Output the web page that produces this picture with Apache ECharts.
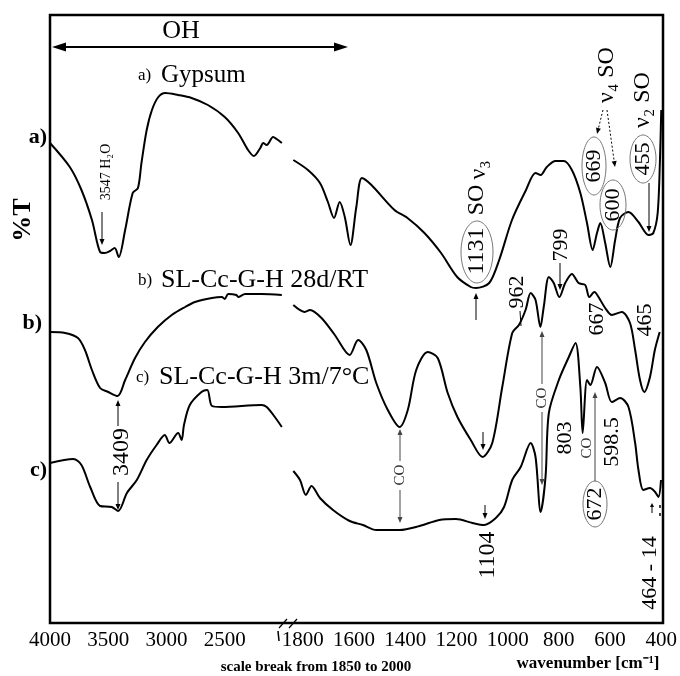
<!DOCTYPE html>
<html>
<head>
<meta charset="utf-8">
<script src="https://cdn.jsdelivr.net/npm/echarts@6/dist/echarts.min.js"></script>
<style>
  html, body { margin: 0; background: #fff; }
  #chart { width: 680px; height: 676px; }
</style>
</head>
<body>
<div id="chart"></div>
<script>
// FTIR spectra, %T in arbitrary units; x = wavenumber (cm-1), broken between 1850 and 2000
const leftTicks = [4000, 3500, 3000, 2500];
const rightTicks = [1800, 1600, 1400, 1200, 1000, 800, 600, 400];

// a) Gypsum
const aHighWave = [4000, 3830, 3730, 3640, 3570, 3530, 3485, 3445, 3410, 3355, 3290, 3245, 3215, 3170, 3125, 3070, 3010, 2900, 2785, 2645, 2500, 2385, 2300, 2250, 2195, 2170, 2140, 2085, 2055, 2010];
const aHighT    = [480, 456, 433, 403, 371, 370, 372, 375, 366, 393, 430, 435, 460, 493, 513, 526, 530, 528, 525, 518, 506, 490, 473, 467, 475, 480, 478, 486, 484, 480];
const aLowWave = [1837, 1780, 1733, 1702, 1678, 1656, 1636, 1614, 1591, 1569, 1532, 1442, 1391, 1325, 1260, 1197, 1144, 1124, 1072, 1033, 983, 930, 891, 871, 847, 813, 781, 749, 716, 690, 668, 651, 638, 619, 599, 580, 561, 528, 489, 450, 431, 414, 405, 400];
const aLowT    = [463, 453, 440, 421, 405, 421, 406, 378, 416, 445, 438, 413, 405, 390, 370, 346, 336, 335, 340, 363, 403, 432, 450, 448, 456, 462, 462, 453, 430, 400, 373, 390, 400, 380, 356, 383, 405, 411, 401, 388, 390, 410, 463, 513];

// b) SL-Cc-G-H 28d/RT
const bHighWave = [4000, 3870, 3760, 3700, 3640, 3570, 3500, 3420, 3355, 3270, 3185, 3075, 2955, 2840, 2755, 2610, 2525, 2500, 2470, 2400, 2385, 2325, 2185, 2010];
const bHighT    = [291, 290, 285, 273, 253, 235, 231, 227, 243, 265, 281, 296, 308, 316, 321, 325, 326, 324, 329, 328, 326, 329, 329, 328];
const bLowWave = [1837, 1792, 1772, 1727, 1675, 1617, 1584, 1552, 1513, 1468, 1422, 1390, 1357, 1312, 1273, 1234, 1196, 1144, 1098, 1060, 1021, 982, 956, 930, 910, 891, 872, 859, 839, 820, 798, 775, 749, 723, 697, 681, 661, 645, 619, 593, 554, 522, 502, 483, 466, 444, 425, 406];
const bLowT    = [318, 311, 313, 305, 288, 268, 283, 273, 240, 213, 196, 213, 253, 271, 265, 230, 206, 183, 166, 180, 236, 290, 298, 313, 330, 323, 296, 316, 346, 340, 326, 340, 349, 340, 338, 326, 331, 326, 315, 308, 311, 300, 273, 243, 231, 246, 273, 291];

// c) SL-Cc-G-H 3m/7°C
const cHighWave = [4000, 3800, 3730, 3655, 3570, 3470, 3415, 3340, 3255, 3170, 3085, 3015, 2975, 2900, 2870, 2850, 2800, 2700, 2650, 2610, 2525, 2185, 2140, 2070, 2010];
const cHighT    = [160, 164, 158, 136, 117, 116, 112, 130, 143, 163, 178, 188, 180, 190, 183, 198, 218, 231, 233, 217, 216, 218, 216, 206, 196];
const cLowWave = [1837, 1811, 1788, 1766, 1733, 1682, 1617, 1565, 1513, 1422, 1344, 1267, 1202, 1137, 1092, 1046, 1014, 982, 949, 910, 891, 871, 852, 839, 800, 761, 735, 716, 707, 690, 677, 651, 619, 593, 560, 528, 502, 489, 470, 444, 424, 411, 401];
const cLowT    = [152, 143, 128, 137, 125, 113, 102, 98, 93, 93, 97, 103, 104, 100, 98, 105, 116, 143, 156, 180, 166, 111, 146, 210, 243, 266, 280, 236, 190, 243, 238, 256, 240, 221, 225, 216, 180, 153, 133, 135, 131, 126, 143];

const FONT = '"Liberation Serif", "Times New Roman", serif';
const chart = echarts.init(document.getElementById('chart'));

const pair = (w, t) => w.map((x, i) => [x, t[i]]);
const curve = (idx, w, t) => ({
  type: 'line', xAxisIndex: idx, yAxisIndex: idx, data: pair(w, t),
  showSymbol: false, smooth: 0.3, silent: true,
  lineStyle: { color: '#000', width: 2 }
});

const xAxisBase = (idx, min, max, interval, ticks) => ({
  gridIndex: idx, type: 'value', min, max, interval, inverse: true,
  axisLine: { show: false }, axisTick: { show: false }, splitLine: { show: false },
  axisLabel: { formatter: v => ticks.includes(v) ? String(v) : '', fontFamily: FONT, fontSize: 21, color: '#000', margin: 7 }
});
const yAxisBase = idx => ({ gridIndex: idx, type: 'value', min: 0, max: 608, show: false });

// annotation helpers (pixel positions)
function txt(s, x, y, size, o = {}) {
  return {
    type: 'text', x, y, z: 10, rotation: o.rot ? Math.PI / 2 : 0,
    style: { text: s, font: `${o.bold ? 'bold ' : ''}${size}px ${FONT}`, fill: o.color || '#000', align: o.align || 'center', verticalAlign: 'middle' }
  };
}
function arrow(x1, y1, x2, y2, o = {}) {
  const c = o.color || '#000', h = o.head || 6, w = o.half || 2.5;
  const a = Math.atan2(y2 - y1, x2 - x1), ca = Math.cos(a), sa = Math.sin(a);
  const bx = x2 - h * ca, by = y2 - h * sa;
  return [
    { type: 'line', z: 10, shape: { x1, y1, x2: bx, y2: by }, style: { stroke: c, lineWidth: o.lw || 1, lineDash: o.dash || null } },
    { type: 'polygon', z: 10, shape: { points: [[x2, y2], [bx - w * sa, by + w * ca], [bx + w * sa, by - w * ca]] }, style: { fill: c } }
  ];
}
const line = (x1, y1, x2, y2, o = {}) => ({ type: 'line', z: 10, shape: { x1, y1, x2, y2 }, style: { stroke: o.color || '#000', lineWidth: o.lw || 1 } });
const oval = (cx, cy, rx, ry) => ({ type: 'ellipse', z: 9, shape: { cx, cy, rx, ry }, style: { fill: 'none', stroke: '#777', lineWidth: 1 } });

const graphic = [
  { type: 'rect', z: 10, shape: { x: 50, y: 15, width: 613, height: 608 }, style: { fill: 'none', stroke: '#000', lineWidth: 2.5 } },
  line(279, 628, 287, 619, { lw: 1.2 }), line(289, 628, 297, 619, { lw: 1.2 }), line(278, 631, 279, 641, { lw: 1.5 }),

  txt('OH', 181, 31, 26),
  ...arrow(200, 47, 52, 47, { lw: 2, head: 14, half: 4.5 }), ...arrow(200, 47, 348, 47, { lw: 2, head: 14, half: 4.5 }),

  txt('a)', 138, 76, 17, { align: 'left' }), txt('Gypsum', 161, 75, 25, { align: 'left' }),
  txt('b)', 138, 281, 17, { align: 'left' }), txt('SL-Cc-G-H 28d/RT', 161, 280, 26, { align: 'left' }),
  txt('c)', 136, 378, 17, { align: 'left' }), txt('SL-Cc-G-H 3m/7°C', 159, 377, 26, { align: 'left' }),

  txt('a)', 47, 137, 22, { bold: true, align: 'right' }),
  txt('b)', 42, 323, 22, { bold: true, align: 'right' }),
  txt('c)', 47, 470, 22, { bold: true, align: 'right' }),
  txt('%T', 23, 220, 26, { bold: true, rot: true }),

  txt('3547 H₂O', 106, 172, 14, { rot: true }), ...arrow(102, 212, 102, 245),
  txt('3409', 122, 452, 24, { rot: true }), ...arrow(118, 426, 118, 400), ...arrow(118, 482, 118, 510),

  txt('1131', 477, 251, 24, { rot: true }), oval(477, 252, 16, 31),
  txt('SO', 477, 200, 24, { rot: true }), txt('ν₃', 479, 170, 24, { rot: true }),
  ...arrow(476, 320, 476, 293),

  txt('ν₄ SO', 607, 75, 24, { rot: true }),
  ...arrow(603, 110, 597, 134, { dash: [2, 2] }), ...arrow(607, 110, 615, 167, { dash: [2, 2] }),
  txt('669', 594, 166, 22, { rot: true }), oval(594, 166, 12, 29),
  txt('600', 613, 205, 22, { rot: true }), oval(613, 205, 13, 25),
  txt('ν₂ SO', 643, 100, 24, { rot: true }),
  txt('455', 643, 159, 22, { rot: true }), oval(643, 159, 13, 24),
  ...arrow(649, 183, 649, 232),

  txt('962', 517, 292, 22, { rot: true }), line(520, 311, 521, 326),
  txt('799', 561, 245, 22, { rot: true }), ...arrow(560, 263, 560, 290),
  txt('667', 597, 319, 22, { rot: true }),
  txt('465', 645, 320, 22, { rot: true }),

  txt('CO', 542, 398, 15, { rot: true, color: '#333' }),
  ...arrow(542, 384, 542, 331, { color: '#444' }), ...arrow(542, 412, 542, 485, { color: '#444' }),
  txt('CO', 400, 475, 15, { rot: true, color: '#333' }),
  ...arrow(400, 461, 400, 429, { color: '#444' }), ...arrow(400, 490, 400, 523, { color: '#444' }),

  ...arrow(483, 432, 483, 450), ...arrow(485, 505, 485, 519),
  txt('1104', 488, 555, 24, { rot: true }),
  txt('803', 565, 438, 22, { rot: true }),
  txt('CO', 587, 448, 15, { rot: true, color: '#333' }),
  txt('672', 595, 504, 22, { rot: true }), oval(595, 504, 12, 23),
  ...arrow(595, 481, 595, 392, { color: '#444' }),
  txt('598.5', 612, 442, 22, { rot: true }),
  txt('464 - 14', 650, 573, 22, { rot: true }),
  ...arrow(652, 513, 652, 503, { head: 4, half: 2 }), line(660, 505, 660, 508, { lw: 1.5 }), line(660, 513, 660, 516, { lw: 1.5 }),

  txt('scale break from 1850 to 2000', 316, 667, 15, { bold: true }),
  txt('wavenumber [cm⁻¹]', 588, 664, 17, { bold: true })
];

chart.setOption({
  animation: false,
  backgroundColor: '#fff',
  grid: [
    { left: 50, top: 15, width: 233, height: 608 },
    { left: 290, top: 15, width: 373, height: 608 }
  ],
  xAxis: [xAxisBase(0, 2000, 4000, 500, leftTicks), xAxisBase(1, 400, 1850, 200, rightTicks)],
  yAxis: [yAxisBase(0), yAxisBase(1)],
  series: [
    curve(0, aHighWave, aHighT), curve(1, aLowWave, aLowT),
    curve(0, bHighWave, bHighT), curve(1, bLowWave, bLowT),
    curve(0, cHighWave, cHighT), curve(1, cLowWave, cLowT)
  ],
  graphic
});
</script>
</body>
</html>
